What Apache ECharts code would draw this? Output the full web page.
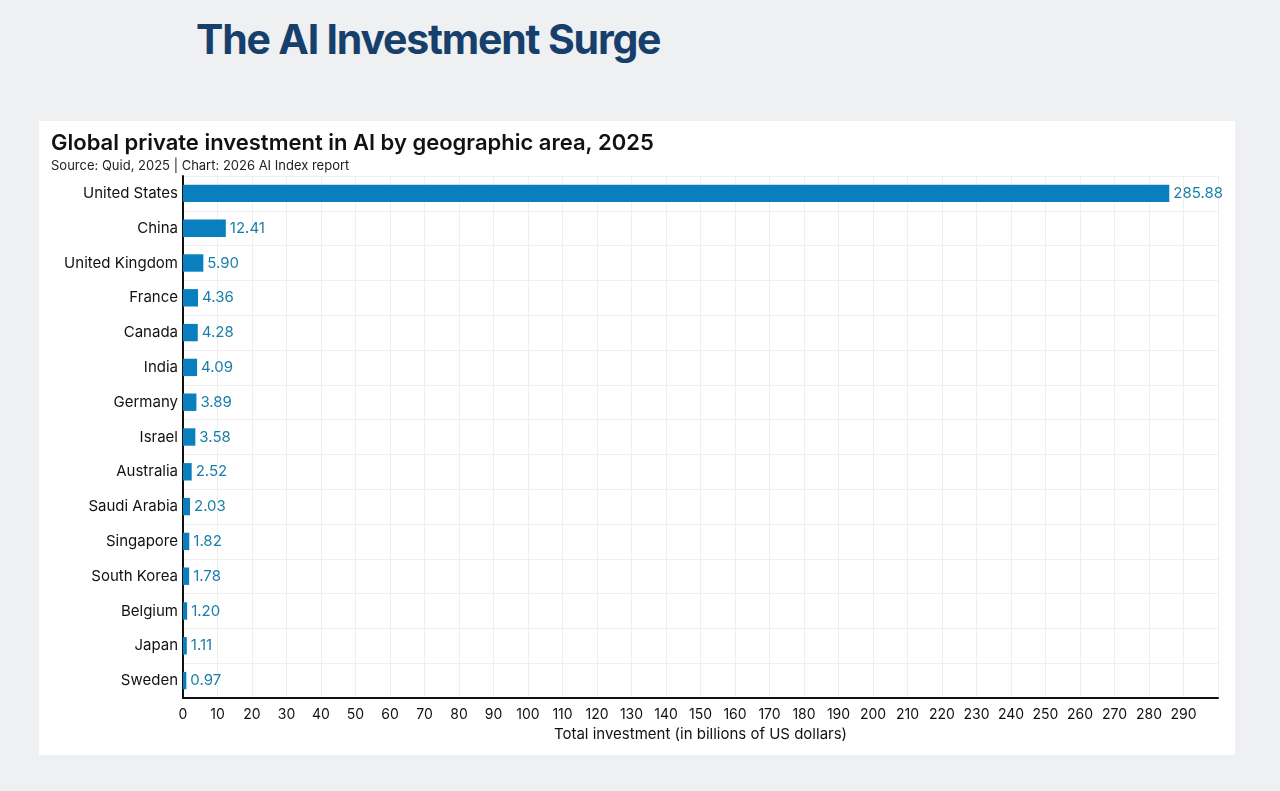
<!DOCTYPE html>
<html>
<head>
<meta charset="utf-8">
<script src="https://cdn.jsdelivr.net/npm/echarts@6/dist/echarts.min.js"></script>
<style>
  html, body { margin: 0; padding: 0; background: #eef0f2; }
  #page { position: relative; width: 1280px; height: 791px; overflow: hidden;
    font-family: "Inter", "Noto Sans", sans-serif; }
  #headline { position: absolute; left: 196px; top: 14px; font-size: 41px; font-weight: 700;
    color: #173f6b; letter-spacing: -1.2px; }
  #panel { position: absolute; left: 39px; top: 121px; width: 1196px; height: 634px; background: #fff; }
  #chart { position: absolute; left: 0; top: 0; width: 1280px; height: 791px; }
</style>
</head>
<body>
<div id="page">
  <div id="headline">The AI Investment Surge</div>
  <div id="panel"></div>
  <div id="chart"></div>
</div>
<script>
// data, top to bottom as drawn
var countries = ["United States", "China", "United Kingdom", "France", "Canada", "India",
  "Germany", "Israel", "Australia", "Saudi Arabia", "Singapore", "South Korea",
  "Belgium", "Japan", "Sweden"];
var investment = [285.88, 12.41, 5.90, 4.36, 4.28, 4.09, 3.89, 3.58, 2.52, 2.03,
  1.82, 1.78, 1.20, 1.11, 0.97];

var chart = echarts.init(document.getElementById("chart"));
chart.setOption({
  animation: false,
  title: {
    text: "Global private investment in AI by geographic area, 2025",
    subtext: "Source: Quid, 2025 | Chart: 2026 AI Index report",
    left: 46, top: 127, itemGap: 6,
    textStyle: { fontFamily: "Inter", fontSize: 22, fontWeight: 600, color: "#111" },
    subtextStyle: { fontFamily: "Inter", fontSize: 13, color: "#222" }
  },
  grid: { left: 183, right: 62, top: 176, bottom: 93 },
  xAxis: {
    type: "value", min: 0, max: 300, interval: 10,
    name: "Total investment (in billions of US dollars)",
    nameLocation: "middle", nameGap: 29,
    nameTextStyle: { fontFamily: "Inter", fontSize: 15, color: "#111" },
    axisLine: { show: true, lineStyle: { color: "#111", width: 2 } },
    axisTick: { show: false },
    axisLabel: { fontFamily: "Inter", fontSize: 14, color: "#111", margin: 10,
      formatter: function (v) { return v >= 300 ? "" : v; } },
    splitLine: { show: true, lineStyle: { color: "#eeeeee" } }
  },
  yAxis: {
    type: "category", data: countries, inverse: true,
    axisLine: { show: true, lineStyle: { color: "#111", width: 2 } },
    axisTick: { show: false },
    axisLabel: { fontFamily: "Inter", fontSize: 15, color: "#111", margin: 5 },
    splitLine: { show: true, lineStyle: { color: "#f0f0f0" } }
  },
  series: [{
    type: "bar", data: investment, barWidth: "50%",
    itemStyle: { color: "#0a7fc0" },
    label: { show: true, position: "right", distance: 4,
      fontFamily: "Inter", fontSize: 15, color: "#1a7fa8",
      formatter: function (p) { return p.value.toFixed(2); } }
  }]
});
</script>
</body>
</html>
